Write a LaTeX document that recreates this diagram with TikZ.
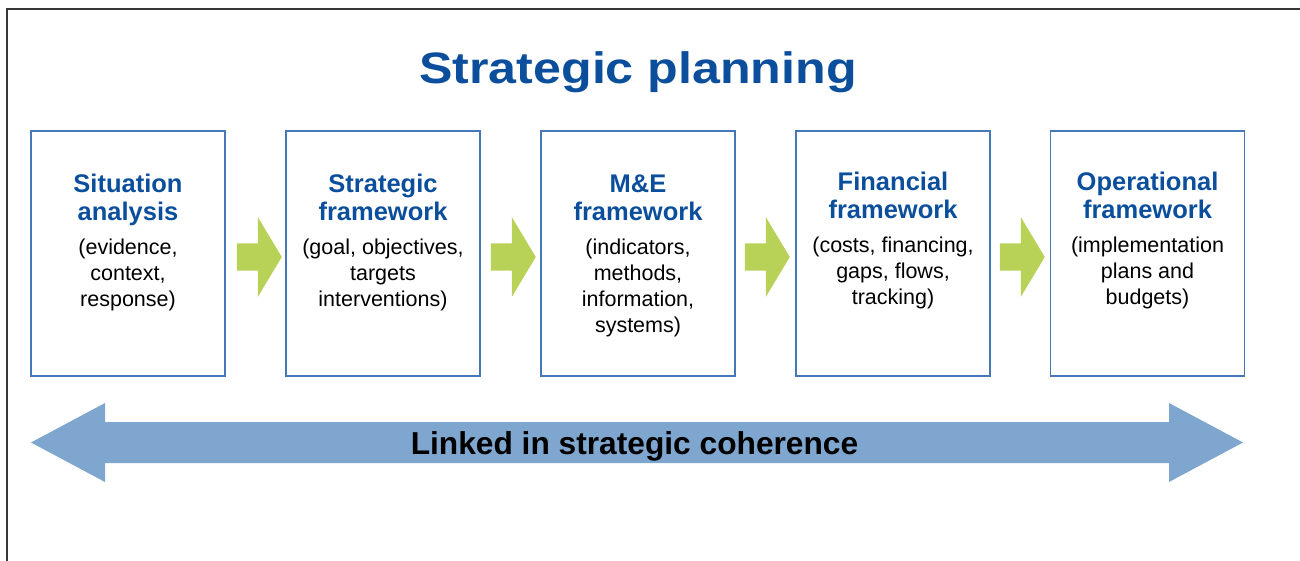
\documentclass[tikz,border=0pt]{standalone}
\usepackage{fontspec}
\setmainfont{Liberation Sans}
\usetikzlibrary{calc}
\definecolor{titleblue}{RGB}{11,79,156}
\definecolor{boxblue}{RGB}{70,120,185}
\definecolor{arrgreen}{RGB}{184,210,87}
\definecolor{bigarr}{RGB}{127,166,206}
\definecolor{framegray}{RGB}{55,55,55}
\begin{document}
\begin{tikzpicture}[x=1pt,y=-1pt,
  stagebox/.style={draw=boxblue,line width=1.5pt,minimum width=194pt,minimum height=245pt,inner sep=0pt},
  headtext/.style={font=\fontsize{25.5}{28}\selectfont\bfseries,text=titleblue,align=center,inner sep=0pt,anchor=north},
  bodytext/.style={font=\fontsize{21.5}{26}\selectfont,align=center,inner sep=0pt,anchor=north},
  greenarrow/.pic={\fill[arrgreen] (0,-13.5) -- (21,-13.5) -- (21,-40) -- (45,0) -- (21,40) -- (21,13.5) -- (0,13.5) -- cycle;}
]
\useasboundingbox (0,0) rectangle (1300,561);
% frame
\draw[framegray,line width=2pt] (7,561) -- (7,9) -- (1300,9);
% title
\node[font=\fontsize{44}{48}\selectfont\bfseries,text=titleblue,anchor=base,inner sep=0pt] (title) at (638,83.5) {\scalebox{1.14}[1]{Strategic planning}};
% boxes
\node[stagebox] (b1) at (128,253.5) {};
\node[stagebox] (b2) at (383,253.5) {};
\node[stagebox] (b3) at (638,253.5) {};
\node[stagebox] (b4) at (893,253.5) {};
\node[stagebox] (b5) at (1147.5,253.5) {};
% headers
\node[headtext] (h1) at ($(b1.north)+(0,44)$) {Situation\\analysis};
\node[headtext] (h2) at ($(b2.north)+(0,44)$) {Strategic\\framework};
\node[headtext] (h3) at ($(b3.north)+(0,44)$) {M\&E\\framework};
\node[headtext] (h4) at ($(b4.north)+(0,42)$) {Financial\\framework};
\node[headtext] (h5) at ($(b5.north)+(0,42)$) {Operational\\framework};
% bodies
\node[bodytext] (t1) at ($(b1.north)+(0,108.5)$) {(evidence,\\context,\\response)};
\node[bodytext] (t2) at ($(b2.north)+(0,108.5)$) {(goal, objectives,\\targets\\interventions)};
\node[bodytext] (t3) at ($(b3.north)+(0,108.5)$) {(indicators,\\methods,\\information,\\systems)};
\node[bodytext] (t4) at ($(b4.north)+(0,106.5)$) {(costs, financing,\\gaps, flows,\\tracking)};
\node[bodytext] (t5) at ($(b5.north)+(0,106.5)$) {(implementation\\plans and\\budgets)};
% green arrows
\pic at ($(b1.east)+(11,3.5)$) {greenarrow};
\pic at ($(b2.east)+(10,3.5)$) {greenarrow};
\pic at ($(b3.east)+(9,3.5)$) {greenarrow};
\pic at ($(b4.east)+(9,3.5)$) {greenarrow};
% big double arrow
\coordinate (L) at (31,442.5);
\coordinate (R) at (1243,442.5);
\fill[bigarr] (L) -- ($(L)+(74,-39.5)$) -- ($(L)+(74,-20.5)$) -- ($(R)+(-74,-20.5)$) -- ($(R)+(-74,-39.5)$) -- (R)
  -- ($(R)+(-74,39.5)$) -- ($(R)+(-74,20.5)$) -- ($(L)+(74,20.5)$) -- ($(L)+(74,39.5)$) -- cycle;
\node[font=\fontsize{31.7}{34}\selectfont\bfseries,anchor=base,inner sep=0pt] (link) at (634.5,454) {Linked in strategic coherence};
\end{tikzpicture}
\end{document}
